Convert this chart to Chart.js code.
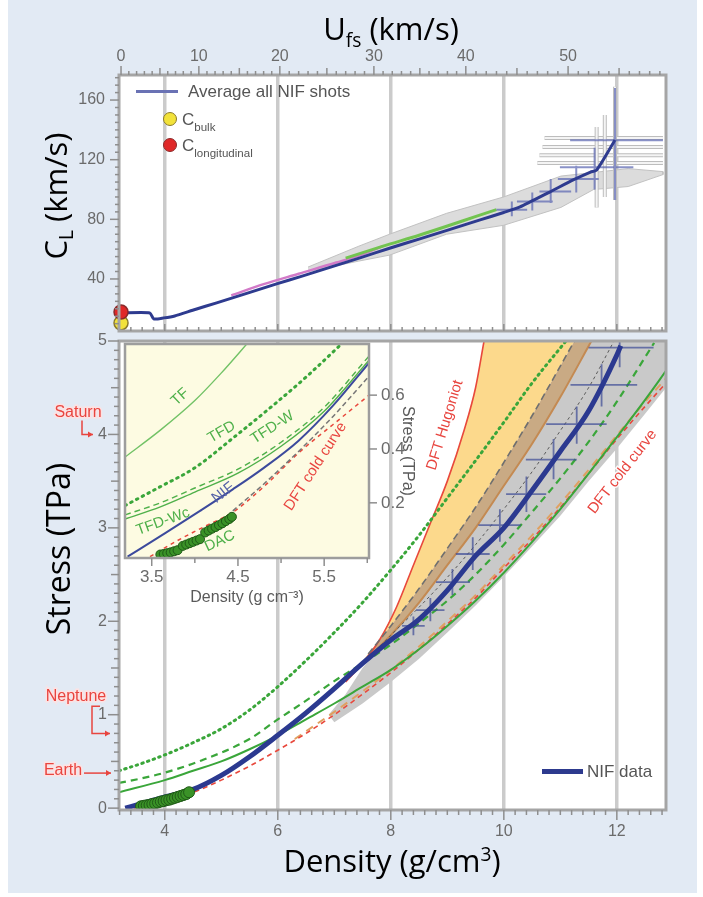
<!DOCTYPE html>
<html>
<head>
<meta charset="utf-8">
<title>Diamond ramp compression</title>
<script src="https://cdn.jsdelivr.net/npm/chart.js@4.4.1/dist/chart.umd.min.js"></script>
<style>
  html, body { margin: 0; padding: 0; background: #ffffff; }
  #fig { position: relative; width: 703px; height: 897px; overflow: hidden; }
  #backdrop { position: absolute; left: 8px; top: 0; width: 689px; height: 893px; background: #e2eaf4; }
  canvas { position: absolute; }
  .ttl { position: absolute; font-family: 'Open Sans', Lato, sans-serif; line-height: 1; color: #000; white-space: nowrap; }
  .ttl sub { font-size: 0.62em; vertical-align: -0.35em; line-height: 0; }
  .ttl sup { font-size: 0.62em; vertical-align: 0.55em; line-height: 0; }
  .rot { transform: translate(-50%, -50%) rotate(-90deg); }
  .key { position: absolute; font-family: 'Liberation Sans', Arial, sans-serif; color: #555; white-space: nowrap; line-height: 1; }
  .key sub { font-size: 0.68em; vertical-align: -0.5em; line-height: 0; }
  .swatch { position: absolute; }
  .dot { position: absolute; border-radius: 50%; box-sizing: border-box; }
</style>
</head>
<body>
<div id="fig">
  <div id="backdrop"></div>
  <canvas id="topChart" width="703" height="340" style="left:0;top:0"></canvas>
  <canvas id="mainChart" width="703" height="564" style="left:0;top:333px"></canvas>
  <canvas id="insetChart" width="330" height="285" style="left:100px;top:335px"></canvas>

  <div class="ttl" style="left:391px;top:13px;transform:translateX(-50%);font-size:31px">U<sub>fs</sub> (km/s)</div>
  <div class="ttl rot" style="left:55px;top:196px;font-size:31px">C<sub>L</sub> (km/s)</div>
  <div class="ttl rot" style="left:58px;top:549px;font-size:32px">Stress (TPa)</div>
  <div class="ttl" style="left:392px;top:845px;transform:translateX(-50%);font-size:31px">Density (g/cm<sup>3</sup>)</div>

  <!-- keys -->
  <div class="swatch" style="left:136px;top:90px;width:42px;height:3px;background:#6a72b4"></div>
  <div class="key" style="left:188px;top:83px;font-size:17px">Average all NIF shots</div>
  <div class="dot" style="left:163px;top:112px;width:14px;height:14px;background:#f2e23a;border:1.5px solid #8a7a2a"></div>
  <div class="key" style="left:182px;top:111px;font-size:17px">C<sub>bulk</sub></div>
  <div class="dot" style="left:163px;top:138px;width:14px;height:14px;background:#e02828;border:1.5px solid #8a2a2a"></div>
  <div class="key" style="left:182px;top:137px;font-size:17px">C<sub>longitudinal</sub></div>
  <div class="swatch" style="left:542px;top:769px;width:41px;height:5px;background:#2d3a8e"></div>
  <div class="key" style="left:587px;top:763px;font-size:17px">NIF data</div>
</div>

<script>
// ---------------- top panel: C_L against free-surface velocity ----------------
const UFS_TICKS = [0, 10, 20, 30, 40, 50];
const CL_TICKS = [40, 80, 120, 160];
// the Ufs axis is not uniform: tick values pinned to fractions of its length
const UFS_AXIS_VALUES = [-0.25, 0, 10, 20, 30, 40, 50, 59.6];
const UFS_AXIS_FRACTIONS = [0, 0.0037, 0.146, 0.294, 0.466, 0.634, 0.821, 1];

const AVG_UFS = [0, 3.7, 4.2, 5.5, 6.9, 9.2, 12.2, 16.3, 19.6, 22.2, 25.4, 28.6, 31.7, 35.0, 38.3, 41.4, 43.7, 45.3, 48.2, 50.5, 52.2, 52.8, 54.6];
const AVG_CL = [17.2, 17.2, 13.2, 13.9, 15.2, 19.0, 24.0, 31.0, 36.7, 41.6, 47.9, 54.3, 60.6, 66.9, 73.3, 79.6, 84.6, 88.3, 98.3, 106.4, 111.7, 113.0, 133.2];

const PINK_UFS = [14, 18, 22, 26, 29, 31];
const PINK_CL = [29, 36.5, 43.5, 51, 57, 62];
const GREEN_UFS = [27, 31, 35, 38, 41, 43];
const GREEN_CL = [54, 62, 69.5, 75.5, 82, 86.5];

// spread of individual shots
const SPREAD_UFS = [23, 28.4, 31.7, 37.9, 43.7, 49.3, 55.9, 59.3, 59.3, 55.9, 52.5, 49.3, 43.7, 37.9, 31.7, 28.4, 23];
const SPREAD_CL = [48, 62, 70, 84, 95, 109, 114, 112, 110, 102, 100, 88, 76, 70, 56, 52, 45];

const GRAY_HBAR_CL = [134.5, 128.5, 123, 117.7];
const GRAY_HBAR_LO = [47.7, 47.5, 47.2, 47.0];
const GRAY_HBAR_HI = [59.3, 59.3, 59.3, 59.3];
const GRAY_VBAR_UFS = [52.8, 53.6, 54.6];
const GRAY_VBAR_LO = [88, 95, 93];
const GRAY_VBAR_HI = [142, 150, 169];

const ERR_UFS = [44.5, 46.5, 48.3, 50.8, 52.6, 54.6];
const ERR_CL = [86.5, 92, 98.6, 107, 115, 133];
const ERR_UFS_LO = [43.0, 45.0, 47.2, 49.0, 49.2, 50.2];
const ERR_UFS_HI = [46.0, 48.5, 50.3, 53.0, 56.4, 59.3];
const ERR_CL_LO = [82, 86, 91, 98, 100, 93];
const ERR_CL_HI = [92, 98, 107, 116, 128, 168];

const C_BULK = 10.5;
const C_LONG = 17.8;

// ---------------- main panel: stress against density ----------------
const DENSITY_TICKS = [4, 6, 8, 10, 12];
const STRESS_TICKS = [0, 1, 2, 3, 4, 5];

const NIF_D = [3.3, 3.6, 4.0, 4.5, 5.0, 5.5, 6.0, 6.5, 7.0, 7.5, 8.0, 8.5, 9.0, 9.5, 10.0, 10.5, 11.0, 11.5, 12.0, 12.07];
const NIF_S = [0.0, 0.05, 0.12, 0.2, 0.35, 0.55, 0.78, 1.02, 1.28, 1.55, 1.8, 2.02, 2.33, 2.7, 3.0, 3.4, 3.82, 4.25, 4.85, 4.95];

const NIF_ERR_D = [8.4, 8.7, 9.09, 9.45, 9.93, 10.4, 10.88, 11.29, 11.73, 12.05];
const NIF_ERR_S = [1.95, 2.12, 2.42, 2.72, 3.03, 3.36, 3.73, 4.11, 4.53, 4.93];
const NIF_ERR_D_LO = [8.2, 8.45, 8.8, 9.15, 9.55, 10.04, 10.39, 10.75, 11.18, 11.5];
const NIF_ERR_D_HI = [8.6, 8.95, 9.4, 9.75, 10.3, 10.75, 11.29, 11.82, 12.36, 12.65];
const NIF_ERR_S_LO = [1.85, 2.0, 2.28, 2.55, 2.85, 3.17, 3.52, 3.9, 4.3, 4.72];
const NIF_ERR_S_HI = [2.05, 2.25, 2.56, 2.9, 3.2, 3.55, 3.95, 4.3, 4.75, 5.0];

const TFD_D = [3.19, 3.6, 4.0, 4.5, 5.0, 5.5, 6.0, 6.5, 7.0, 7.5, 8.0, 8.5, 9.0, 9.5, 10.0, 10.5, 11.1];
const TFD_S = [0.4, 0.48, 0.57, 0.7, 0.85, 1.05, 1.3, 1.58, 1.88, 2.2, 2.55, 2.92, 3.32, 3.72, 4.13, 4.55, 5.0];
const TFDW_D = [3.19, 3.6, 4.0, 4.65, 5.5, 6.0, 6.5, 7.0, 7.5, 8.0, 8.5, 9.0, 9.5, 10.0, 10.5, 11.0, 11.5, 12.0, 12.66];
const TFDW_S = [0.27, 0.32, 0.38, 0.51, 0.74, 0.95, 1.15, 1.36, 1.55, 1.75, 1.98, 2.22, 2.5, 2.82, 3.17, 3.53, 3.92, 4.35, 4.98];
const TFDWC_D = [3.19, 4.0, 4.5, 5.0, 5.5, 6.0, 6.5, 7.0, 7.5, 8.0, 8.5, 9.0, 9.5, 10.0, 10.5, 11.0, 11.5, 12.0, 12.5, 12.87];
const TFDWC_S = [0.17, 0.3, 0.4, 0.5, 0.63, 0.78, 0.95, 1.12, 1.3, 1.48, 1.7, 1.95, 2.22, 2.52, 2.85, 3.2, 3.58, 3.97, 4.37, 4.68];

const COLD_D = [3.45, 4.0, 4.5, 5.0, 5.5, 6.0, 6.5, 7.0, 7.5, 8.0, 8.5, 9.0, 9.5, 10.0, 10.5, 11.0, 11.5, 12.0, 12.5, 12.87];
const COLD_S = [0.0, 0.08, 0.17, 0.3, 0.45, 0.62, 0.8, 1.0, 1.22, 1.45, 1.7, 1.97, 2.25, 2.57, 2.88, 3.22, 3.58, 3.95, 4.3, 4.55];
const COLD_ALT_D = [6.3, 7.0, 7.5, 8.0, 8.5, 9.0, 9.5, 10.0, 10.5, 11.0, 11.5, 12.0, 12.5, 12.87];
const COLD_ALT_S = [0.74, 1.03, 1.25, 1.48, 1.73, 2.0, 2.28, 2.6, 2.92, 3.26, 3.62, 3.99, 4.35, 4.6];

const HUG_D = [7.2, 7.5, 7.8, 8.1, 8.4, 8.7, 9.0, 9.3, 9.5, 9.65];
const HUG_S = [1.35, 1.55, 1.8, 2.15, 2.6, 3.05, 3.5, 4.05, 4.5, 5.0];
const HUG_EDGE_D = [7.6, 8.0, 8.5, 9.0, 9.5, 10.0, 10.5, 11.25];
const HUG_EDGE_S = [1.65, 1.95, 2.35, 2.78, 3.22, 3.7, 4.2, 5.0];
const BROWN_D = [7.5, 8.0, 8.5, 9.0, 9.5, 10.0, 10.5, 11.0, 11.55];
const BROWN_S = [1.55, 1.85, 2.2, 2.6, 3.0, 3.45, 3.9, 4.4, 5.0];
const DOTTED_D = [7.6, 8.0, 8.5, 9.0, 9.5, 10.0, 10.5, 11.0, 11.5, 11.95];
const DOTTED_S = [1.6, 1.85, 2.15, 2.47, 2.82, 3.2, 3.6, 4.04, 4.5, 5.0];

const BAND_D = [6.9, 7.2, 7.5, 8.0, 8.5, 9.0, 9.5, 10.0, 10.5, 11.0, 11.55, 12.87, 12.87, 12.5, 12.0, 11.5, 11.0, 10.5, 10.0, 9.5, 9.0, 8.5, 8.0, 7.5, 7.0, 6.9];
const BAND_S = [1.0, 1.22, 1.5, 1.85, 2.2, 2.6, 3.0, 3.45, 3.9, 4.4, 5.0, 5.0, 4.5, 4.22, 3.85, 3.5, 3.13, 2.8, 2.48, 2.17, 1.88, 1.6, 1.35, 1.12, 0.92, 1.0];

const DAC_D = [3.58, 3.63, 3.68, 3.73, 3.78, 3.83, 3.88, 3.93, 3.98, 4.03, 4.08, 4.13, 4.18, 4.23, 4.28, 4.33, 4.38, 4.43];
const DAC_S = [0.02, 0.025, 0.03, 0.035, 0.045, 0.05, 0.06, 0.07, 0.075, 0.085, 0.09, 0.1, 0.11, 0.12, 0.13, 0.14, 0.15, 0.17];

const PLANETS = ['Saturn', 'Neptune', 'Earth'];
const PLANET_STRESS = [4.0, 0.8, 0.375];

// ---------------- inset: low-pressure detail ----------------
const INSET_D_TICKS = [3.5, 4.5, 5.5];
const INSET_S_TICKS = [0.2, 0.4, 0.6];

const IN_TF_D = [3.19, 3.6, 4.0, 4.3, 4.63];
const IN_TF_S = [0.37, 0.47, 0.58, 0.68, 0.8];
const IN_TFD_D = [3.19, 3.6, 4.0, 4.44, 4.9, 5.3, 5.7];
const IN_TFD_S = [0.19, 0.26, 0.33, 0.44, 0.56, 0.67, 0.79];
const IN_TFDW_D = [3.19, 3.6, 4.0, 4.5, 5.0, 5.5, 6.02];
const IN_TFDW_S = [0.155, 0.2, 0.255, 0.325, 0.425, 0.555, 0.745];
const IN_TFDWC_D = [3.19, 3.6, 4.0, 4.5, 5.0, 5.5, 6.02];
const IN_TFDWC_S = [0.14, 0.185, 0.24, 0.31, 0.41, 0.54, 0.73];
const IN_NIF_D = [3.22, 3.67, 4.06, 4.44, 4.8, 5.2, 5.6, 6.02];
const IN_NIF_S = [0.0, 0.09, 0.17, 0.25, 0.33, 0.43, 0.56, 0.72];
const IN_COLD_D = [3.48, 3.8, 4.1, 4.44, 4.8, 5.22, 5.6, 6.02];
const IN_COLD_S = [0.0, 0.06, 0.11, 0.165, 0.26, 0.39, 0.49, 0.6];
const IN_GREY_D = [4.44, 4.8, 5.2, 5.6, 6.02];
const IN_GREY_S = [0.17, 0.27, 0.39, 0.52, 0.67];
const IN_DAC_D = [3.6, 3.64, 3.68, 3.72, 3.76, 3.8, 3.86, 3.9, 3.94, 3.98, 4.02, 4.06, 4.12, 4.16, 4.2, 4.24, 4.28, 4.32, 4.36, 4.4, 4.43];
const IN_DAC_S = [0.008, 0.01, 0.013, 0.016, 0.02, 0.024, 0.04, 0.045, 0.05, 0.055, 0.06, 0.065, 0.09, 0.097, 0.104, 0.11, 0.117, 0.124, 0.132, 0.14, 0.148];

// ---------------- helpers ----------------
Chart.defaults.font.family = "'Liberation Sans', Arial, sans-serif";
Chart.defaults.color = '#6b6b6b';

function interp(xs, ys, v) {
  let i = 1;
  while (i < xs.length - 1 && v > xs[i]) i++;
  const t = (v - xs[i - 1]) / (xs[i] - xs[i - 1]);
  return ys[i - 1] + t * (ys[i] - ys[i - 1]);
}

function range(a, b, step) {
  const out = [];
  for (let v = a; v <= b + 1e-9; v += step) out.push(Math.round(v * 1000) / 1000);
  return out;
}

const pts = (xs, ys) => xs.map((x, i) => ({ x, y: ys[i] }));
const reversed = arr => arr.slice().reverse();

function curve(xs, ys, style) {
  return Object.assign({
    data: pts(xs, ys), showLine: true, pointRadius: 0, borderWidth: 1.5,
    cubicInterpolationMode: 'monotone', fill: false
  }, style);
}

function polygon(xs, ys, color, edge) {
  return {
    data: pts(xs, ys), showLine: true, pointRadius: 0, tension: 0,
    fill: 'shape', backgroundColor: color,
    borderColor: edge || 'rgba(0,0,0,0)', borderWidth: 1
  };
}

// first dataset in the list is painted first (lowest layer)
function layered(list) {
  list.forEach((d, i) => { d.order = list.length - i; });
  return list;
}

// fixed axis thickness, and no extra room reserved for edge labels
const fixedWidth = w => s => { s.width = w; s.paddingTop = 0; s.paddingBottom = 0; };
const fixedHeight = h => s => { s.height = h; s.paddingLeft = 0; s.paddingRight = 0; };

// the Ufs axis: piecewise-linear between pinned tick positions
const LinearBase = Chart.LinearScale || Chart.registry.getScale('linear');
class UfsScale extends LinearBase {
  getPixelForValue(value) {
    if (value === null || value === undefined || isNaN(value)) return NaN;
    return this.getPixelForDecimal(interp(UFS_AXIS_VALUES, UFS_AXIS_FRACTIONS, value));
  }
  getValueForPixel(pixel) {
    return interp(UFS_AXIS_FRACTIONS, UFS_AXIS_VALUES, this.getDecimalForPixel(pixel));
  }
}
UfsScale.id = 'ufs';
UfsScale.defaults = LinearBase.defaults;
Chart.register(UfsScale);

// plot background + frame
const framePlugin = {
  id: 'frame',
  beforeDraw(chart, args, opts) {
    const { ctx, chartArea: a } = chart;
    ctx.save();
    ctx.fillStyle = opts.fill || '#fff';
    ctx.fillRect(a.left, a.top, a.right - a.left, a.bottom - a.top);
    ctx.restore();
  },
  afterDatasetsDraw(chart, args, opts) {
    const { ctx, chartArea: a } = chart;
    ctx.save();
    ctx.strokeStyle = opts.stroke || '#a3a3a3';
    ctx.lineWidth = opts.width || 3;
    ctx.strokeRect(a.left, a.top, a.right - a.left, a.bottom - a.top);
    ctx.restore();
  }
};

// comb-style tick marks along the frame
const combPlugin = {
  id: 'comb',
  afterDraw(chart, args, opts) {
    const { ctx, chartArea: a } = chart;
    ctx.save();
    ctx.strokeStyle = opts.color || '#8e8e8e';
    ctx.lineWidth = 1.5;
    for (const m of opts.marks || []) {
      const s = chart.scales[m.scale];
      const sign = m.inward ? -1 : 1;
      for (const v of m.values) {
        let len = m.len;
        if ((m.major || []).some(t => Math.abs(t - v) < 1e-6)) len = m.majorLen;
        else if ((m.mid || []).some(t => Math.abs(t - v) < 1e-6)) len = m.midLen;
        len *= sign;
        const p = s.getPixelForValue(v);
        ctx.beginPath();
        if (m.edge === 'left') { ctx.moveTo(a.left, p); ctx.lineTo(a.left - len, p); }
        else if (m.edge === 'right') { ctx.moveTo(a.right, p); ctx.lineTo(a.right + len, p); }
        else if (m.edge === 'top') { ctx.moveTo(p, a.top); ctx.lineTo(p, a.top - len); }
        else { ctx.moveTo(p, a.bottom); ctx.lineTo(p, a.bottom + len); }
        ctx.stroke();
      }
    }
    ctx.restore();
  }
};

// error bars, drawn right after a chosen dataset
const crossesPlugin = {
  id: 'crosses',
  afterDatasetDraw(chart, args, opts) {
    for (const set of opts.sets || []) {
      if (set.after !== args.index) continue;
      const { ctx, chartArea: a } = chart;
      const xs = chart.scales[set.xAxis], ys = chart.scales[set.yAxis];
      const n = (set.y || set.x).length;
      ctx.save();
      ctx.beginPath();
      ctx.rect(a.left, a.top, a.right - a.left, a.bottom - a.top);
      ctx.clip();
      const passes = set.inner ? [[set.width, set.color], [set.width - 2, set.inner]] : [[set.width, set.color]];
      for (const [w, c] of passes) {
        ctx.lineWidth = w;
        ctx.strokeStyle = c;
        ctx.beginPath();
        for (let i = 0; i < n; i++) {
          if (set.xlo) {
            const py = ys.getPixelForValue(set.y[i]);
            ctx.moveTo(xs.getPixelForValue(set.xlo[i]), py);
            ctx.lineTo(xs.getPixelForValue(set.xhi[i]), py);
          }
          if (set.ylo) {
            const px = xs.getPixelForValue(set.x[i]);
            ctx.moveTo(px, ys.getPixelForValue(set.ylo[i]));
            ctx.lineTo(px, ys.getPixelForValue(set.yhi[i]));
          }
        }
        ctx.stroke();
      }
      ctx.restore();
    }
  }
};

// rotated curve names placed in data space
const notesPlugin = {
  id: 'notes',
  afterDraw(chart, args, opts) {
    const { ctx } = chart;
    for (const n of opts.items || []) {
      const x = chart.scales[n.xAxis || 'x'].getPixelForValue(n.x);
      const y = chart.scales[n.yAxis || 'y'].getPixelForValue(n.y);
      ctx.save();
      ctx.translate(x, y);
      ctx.rotate(n.rot * Math.PI / 180);
      ctx.font = n.font;
      ctx.textAlign = 'center';
      ctx.textBaseline = 'middle';
      if (n.halo) {
        ctx.lineWidth = 3;
        ctx.strokeStyle = n.halo;
        ctx.strokeText(n.text, 0, 0);
      }
      ctx.fillStyle = n.color;
      ctx.fillText(n.text, 0, 0);
      ctx.restore();
    }
  }
};

// planet pressure markers in the left margin
const planetsPlugin = {
  id: 'planets',
  afterDraw(chart, args, opts) {
    const { ctx } = chart;
    const ys = chart.scales.y;
    const red = '#e8453f';
    ctx.save();
    ctx.font = "16px 'Liberation Sans', Arial, sans-serif";
    ctx.textAlign = 'center';
    ctx.textBaseline = 'middle';
    for (const p of opts.items || []) {
      const ty = ys.getPixelForValue(p.labelAt);
      ctx.lineWidth = 3;
      ctx.strokeStyle = 'rgba(255,225,225,0.9)';
      ctx.strokeText(p.name, p.labelX, ty);
      ctx.fillStyle = red;
      ctx.fillText(p.name, p.labelX, ty);
      ctx.strokeStyle = red;
      ctx.lineWidth = 1.5;
      ctx.beginPath();
      p.path.forEach(([x, s], i) => {
        const y = ys.getPixelForValue(s);
        if (i === 0) ctx.moveTo(x, y); else ctx.lineTo(x, y);
      });
      ctx.stroke();
      const [ex, es] = p.path[p.path.length - 1];
      const ey = ys.getPixelForValue(es);
      ctx.beginPath();
      ctx.moveTo(ex, ey);
      ctx.lineTo(ex - 5, ey - 3);
      ctx.lineTo(ex - 5, ey + 3);
      ctx.closePath();
      ctx.fillStyle = red;
      ctx.fill();
    }
    ctx.restore();
  }
};

const majorTicks = list => s => { s.ticks = list.map(v => ({ value: v })); };
const noGrid = { display: false, drawTicks: false };

// ---------------- top chart ----------------
new Chart(document.getElementById('topChart'), {
  type: 'line',
  data: {
    datasets: layered([
      Object.assign(polygon(SPREAD_UFS, SPREAD_CL, '#dcdcdc', '#c2c2c2'), { xAxisID: 'u', yAxisID: 'cl' }),
      curve(PINK_UFS, PINK_CL, { xAxisID: 'u', yAxisID: 'cl', borderColor: '#d27ac8', borderWidth: 2.5 }),
      curve(GREEN_UFS, GREEN_CL, { xAxisID: 'u', yAxisID: 'cl', borderColor: '#72c450', borderWidth: 3 }),
      curve(AVG_UFS, AVG_CL, { xAxisID: 'u', yAxisID: 'cl', borderColor: '#2e3b8f', borderWidth: 3, cubicInterpolationMode: 'default', tension: 0.2 }),
      { xAxisID: 'u', yAxisID: 'cl', data: [{ x: 0, y: C_BULK }], showLine: false, clip: false,
        pointRadius: 7, backgroundColor: '#f2e23a', borderColor: '#8a7a2a', borderWidth: 1.5 },
      { xAxisID: 'u', yAxisID: 'cl', data: [{ x: 0, y: C_LONG }], showLine: false, clip: false,
        pointRadius: 7, backgroundColor: '#e02828', borderColor: '#8a2a2a', borderWidth: 1.5 }
    ])
  },
  options: {
    responsive: false, animation: false, events: [],
    layout: { padding: { left: 0, right: 37, top: 0, bottom: 0 } },
    scales: {
      u: {
        type: 'ufs', position: 'top', min: -0.25, max: 59.6,
        afterBuildTicks: majorTicks(UFS_TICKS),
        afterFit: fixedHeight(75),
        ticks: { autoSkip: false, maxRotation: 0, padding: 9, font: { size: 16 }, callback: v => String(v) },
        grid: noGrid, border: { display: false }
      },
      d: {
        type: 'linear', position: 'bottom', min: 3.19, max: 12.87,
        afterBuildTicks: majorTicks(DENSITY_TICKS),
        afterFit: fixedHeight(9),
        ticks: { display: false },
        grid: { color: '#cbcbcb', lineWidth: 3.5, drawTicks: false }, border: { display: false }
      },
      cl: {
        type: 'linear', position: 'left', min: 5.1, max: 176.8,
        afterBuildTicks: majorTicks(CL_TICKS),
        afterFit: fixedWidth(119),
        ticks: { padding: 14, font: { size: 16 } },
        grid: noGrid, border: { display: false }
      }
    },
    plugins: {
      legend: { display: false }, tooltip: { enabled: false },
      frame: { fill: '#ffffff', stroke: '#a5a5a5', width: 3 },
      comb: {
        marks: [
          { scale: 'u', edge: 'top', values: range(0, 59, 1), major: UFS_TICKS, majorLen: 9, mid: range(5, 55, 10), midLen: 7, len: 4 },
          { scale: 'cl', edge: 'left', values: range(10, 175, 5), major: CL_TICKS, majorLen: 9, len: 4 },
          { scale: 'd', edge: 'bottom', inward: true, values: range(3.4, 12.8, 0.2), major: DENSITY_TICKS, majorLen: 7, len: 4 }
        ]
      },
      crosses: {
        sets: [
          { after: 2, xAxis: 'u', yAxis: 'cl', y: GRAY_HBAR_CL, xlo: GRAY_HBAR_LO, xhi: GRAY_HBAR_HI, width: 4, color: '#bdbdbd', inner: '#f4f4f4' },
          { after: 2, xAxis: 'u', yAxis: 'cl', x: GRAY_VBAR_UFS, ylo: GRAY_VBAR_LO, yhi: GRAY_VBAR_HI, width: 4, color: '#bdbdbd', inner: '#f4f4f4' },
          { after: 2, xAxis: 'u', yAxis: 'cl', x: ERR_UFS, y: ERR_CL, xlo: ERR_UFS_LO, xhi: ERR_UFS_HI, ylo: ERR_CL_LO, yhi: ERR_CL_HI, width: 2, color: 'rgba(98,108,180,0.75)' }
        ]
      }
    }
  },
  plugins: [framePlugin, combPlugin, crossesPlugin]
});

// ---------------- main chart ----------------
const green = '#3aa63a';
new Chart(document.getElementById('mainChart'), {
  type: 'line',
  data: {
    datasets: layered([
      polygon(BAND_D, BAND_S, '#c9c9c9'),
      polygon(HUG_D.concat(reversed(HUG_EDGE_D)), HUG_S.concat(reversed(HUG_EDGE_S)), '#fcd98c'),
      polygon(HUG_EDGE_D.concat(reversed(BROWN_D)), HUG_EDGE_S.concat(reversed(BROWN_S)), '#c9aa84'),
      curve(HUG_D, HUG_S, { borderColor: '#e8483c', borderWidth: 1.6 }),
      curve(HUG_EDGE_D, HUG_EDGE_S, { borderColor: '#6f6f6f', borderWidth: 1.6, borderDash: [7, 4] }),
      curve(BROWN_D, BROWN_S, { borderColor: '#c48a52', borderWidth: 2 }),
      curve(DOTTED_D, DOTTED_S, { borderColor: '#5a5a5a', borderWidth: 1, borderDash: [3, 3] }),
      curve(COLD_ALT_D, COLD_ALT_S, { borderColor: '#e0a060', borderWidth: 2, borderDash: [8, 6] }),
      curve(COLD_D, COLD_S, { borderColor: '#e8483c', borderWidth: 1.6, borderDash: [5, 4] }),
      curve(TFDWC_D, TFDWC_S, { borderColor: green, borderWidth: 2 }),
      curve(TFDW_D, TFDW_S, { borderColor: green, borderWidth: 2.2, borderDash: [7, 5] }),
      curve(TFD_D, TFD_S, { borderColor: green, borderWidth: 3, borderDash: [1.5, 4.5], borderCapStyle: 'round' }),
      curve(NIF_D, NIF_S, { borderColor: '#2b3990', borderWidth: 5 }),
      { data: pts(DAC_D, DAC_S), showLine: false, pointRadius: 5.5, backgroundColor: '#3a9227', borderColor: '#1f5a17', borderWidth: 1 }
    ])
  },
  options: {
    responsive: false, animation: false, events: [],
    layout: { padding: { left: 0, right: 37, top: 8, bottom: 0 } },
    scales: {
      x: {
        type: 'linear', position: 'bottom', min: 3.19, max: 12.87,
        afterBuildTicks: majorTicks(DENSITY_TICKS),
        afterFit: fixedHeight(87),
        ticks: { autoSkip: false, maxRotation: 0, padding: 12, font: { size: 16 } },
        grid: { color: '#cbcbcb', lineWidth: 3.5, drawTicks: false }, border: { display: false }
      },
      y: {
        type: 'linear', position: 'left', min: -0.02, max: 5,
        afterBuildTicks: majorTicks(STRESS_TICKS),
        afterFit: fixedWidth(119),
        ticks: { padding: 12, font: { size: 16 } },
        grid: noGrid, border: { display: false }
      }
    },
    plugins: {
      legend: { display: false }, tooltip: { enabled: false },
      frame: { fill: '#ffffff', stroke: '#a5a5a5', width: 3 },
      comb: {
        marks: [
          { scale: 'x', edge: 'bottom', values: range(3.2, 12.8, 0.2), major: DENSITY_TICKS, majorLen: 10, len: 5 },
          { scale: 'y', edge: 'left', values: range(0, 5, 0.1), major: STRESS_TICKS, majorLen: 11, mid: range(0.5, 4.5, 1), midLen: 8, len: 5 }
        ]
      },
      crosses: {
        sets: [
          { after: 11, xAxis: 'x', yAxis: 'y', x: NIF_ERR_D, y: NIF_ERR_S, xlo: NIF_ERR_D_LO, xhi: NIF_ERR_D_HI, ylo: NIF_ERR_S_LO, yhi: NIF_ERR_S_HI, width: 1.8, color: 'rgba(60,74,150,0.7)' }
        ]
      },
      notes: {
        items: [
          { text: 'DFT Hugoniot', x: 8.96, y: 4.1, rot: -73, color: '#e8453f', halo: 'rgba(255,255,255,0.9)', font: "15px 'Liberation Sans', Arial, sans-serif" },
          { text: 'DFT cold curve', x: 12.1, y: 3.6, rot: -52, color: '#e8453f', halo: 'rgba(255,255,255,0.9)', font: "15px 'Liberation Sans', Arial, sans-serif" }
        ]
      },
      planets: {
        items: [
          { name: PLANETS[0], labelX: 78, labelAt: 4.23, path: [[82, 4.15], [82, PLANET_STRESS[0]], [93, PLANET_STRESS[0]]] },
          { name: PLANETS[1], labelX: 76, labelAt: 1.19, path: [[100, 1.09], [92, 1.09], [92, PLANET_STRESS[1]], [110, PLANET_STRESS[1]]] },
          { name: PLANETS[2], labelX: 63, labelAt: 0.4, path: [[84, PLANET_STRESS[2]], [111, PLANET_STRESS[2]]] }
        ]
      }
    }
  },
  plugins: [framePlugin, combPlugin, crossesPlugin, notesPlugin, planetsPlugin]
});

// ---------------- inset chart ----------------
const insetGreen = '#4fb04a';
const insetFont = "15px 'Liberation Sans', Arial, sans-serif";
new Chart(document.getElementById('insetChart'), {
  type: 'line',
  data: {
    datasets: layered([
      curve(IN_TF_D, IN_TF_S, { borderColor: '#72c266', borderWidth: 1.4 }),
      curve(IN_TFD_D, IN_TFD_S, { borderColor: '#3aa63a', borderWidth: 3, borderDash: [1.5, 5], borderCapStyle: 'round' }),
      curve(IN_TFDWC_D, IN_TFDWC_S, { borderColor: insetGreen, borderWidth: 1.4 }),
      curve(IN_TFDW_D, IN_TFDW_S, { borderColor: insetGreen, borderWidth: 1.4, borderDash: [6, 4] }),
      curve(IN_COLD_D, IN_COLD_S, { borderColor: '#e8483c', borderWidth: 1.5, borderDash: [4, 4] }),
      curve(IN_GREY_D, IN_GREY_S, { borderColor: '#777777', borderWidth: 1.5, borderDash: [5, 3] }),
      curve(IN_NIF_D, IN_NIF_S, { borderColor: '#3c4a9c', borderWidth: 2 }),
      { data: pts(IN_DAC_D, IN_DAC_S), showLine: false, pointRadius: 4.5, backgroundColor: '#3a9227', borderColor: '#1f5a17', borderWidth: 1 }
    ])
  },
  options: {
    responsive: false, animation: false, events: [],
    layout: { padding: { left: 25, right: 0, top: 9, bottom: 0 } },
    scales: {
      x: {
        type: 'linear', position: 'bottom', min: 3.19, max: 6.02,
        afterBuildTicks: majorTicks(INSET_D_TICKS),
        afterFit: fixedHeight(62),
        ticks: { autoSkip: false, maxRotation: 0, padding: 9, font: { size: 17 } },
        title: { display: true, text: 'Density (g cm⁻³)', color: '#5a5a5a', font: { size: 16 }, padding: { top: 0, bottom: 13 } },
        grid: noGrid, border: { display: false }
      },
      y: {
        type: 'linear', position: 'right', min: -0.005, max: 0.79,
        afterBuildTicks: majorTicks(INSET_S_TICKS),
        afterFit: fixedWidth(61),
        ticks: { padding: 12, font: { size: 17 } },
        title: { display: true, text: 'Stress (TPa)', color: '#5a5a5a', font: { size: 16 }, padding: { top: 13, bottom: 0 } },
        grid: noGrid, border: { display: false }
      }
    },
    plugins: {
      legend: { display: false }, tooltip: { enabled: false },
      frame: { fill: '#fdfbe2', stroke: '#9d9d9d', width: 2.5 },
      comb: {
        marks: [
          { scale: 'x', edge: 'bottom', values: range(3.5, 6.0, 0.5), major: INSET_D_TICKS, majorLen: 8, len: 5 },
          { scale: 'y', edge: 'right', values: INSET_S_TICKS, len: 8 }
        ]
      },
      notes: {
        items: [
          { text: 'TF', x: 3.83, y: 0.593, rot: -43, color: insetGreen, font: insetFont },
          { text: 'TFD', x: 4.31, y: 0.463, rot: -30, color: insetGreen, font: insetFont },
          { text: 'TFD-W', x: 4.9, y: 0.48, rot: -33, color: insetGreen, font: insetFont },
          { text: 'NIF', x: 4.33, y: 0.237, rot: -38, color: '#5663a8', font: insetFont },
          { text: 'TFD-Wc', x: 3.63, y: 0.13, rot: -20, color: insetGreen, font: insetFont },
          { text: 'DAC', x: 4.29, y: 0.058, rot: -25, color: insetGreen, font: insetFont },
          { text: 'DFT cold curve', x: 5.4, y: 0.335, rot: -57, color: '#e8453f', font: insetFont }
        ]
      }
    }
  },
  plugins: [framePlugin, combPlugin, notesPlugin]
});
</script>
</body>
</html>
